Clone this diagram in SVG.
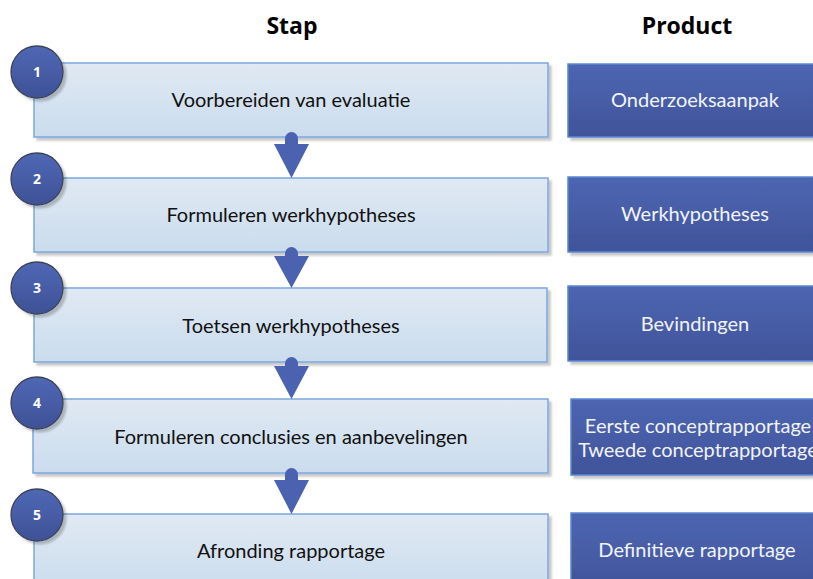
<svg xmlns="http://www.w3.org/2000/svg" width="813" height="579" viewBox="0 0 813 579">
<defs>
<linearGradient id="gLight" x1="0" y1="0" x2="0" y2="1">
<stop offset="0" stop-color="#e0e9f3"/>
<stop offset="1" stop-color="#cadced"/>
</linearGradient>
<linearGradient id="gDark" x1="0" y1="0" x2="0" y2="1">
<stop offset="0" stop-color="#4d66b2"/>
<stop offset="1" stop-color="#40539a"/>
</linearGradient>
<linearGradient id="gCirc" x1="0" y1="0" x2="0" y2="1">
<stop offset="0" stop-color="#4f68b5"/>
<stop offset="1" stop-color="#3e5196"/>
</linearGradient>
<filter id="sh" x="-10%" y="-10%" width="125%" height="130%">
<feGaussianBlur in="SourceAlpha" stdDeviation="1.2"/>
<feOffset dx="3" dy="3" result="b"/>
<feComponentTransfer><feFuncA type="linear" slope="0.22"/></feComponentTransfer>
<feMerge><feMergeNode/><feMergeNode in="SourceGraphic"/></feMerge>
</filter>
</defs>
<style>
.step{fill:url(#gLight);stroke:#7ba7de;stroke-width:1.5;filter:url(#sh)}
.prod{fill:url(#gDark);stroke:#5b86d2;stroke-width:1.5;filter:url(#sh)}
.circ{fill:url(#gCirc);stroke:#3d4257;stroke-width:1.3;filter:url(#sh)}
.num{font-family:"Open Sans","Liberation Sans",sans-serif;font-weight:bold;font-size:14px;fill:#ffffff;text-anchor:middle}
.st{font-family:"Lato","Liberation Sans",sans-serif;font-size:20px;fill:#111111;text-anchor:middle}
.pt{font-family:"Lato","Liberation Sans",sans-serif;font-size:20px;fill:#f2f4fa;text-anchor:middle}
.hd{font-family:"Open Sans","Liberation Sans",sans-serif;font-weight:bold;font-size:23px;fill:#000000;text-anchor:middle}
.arr{fill:#4b62b0}
</style>
<g id="headers">
<text class="hd" x="292" y="34">Stap</text>
<text class="hd" x="687" y="34">Product</text>
</g>
<g id="step1">
<rect class="step" x="34" y="63" width="514" height="74"/>
<text class="st" x="291" y="107">Voorbereiden van evaluatie</text>
</g>
<g id="prod1">
<rect class="prod" x="568" y="64" width="256" height="73"/>
<text class="pt" x="695" y="107">Onderzoeksaanpak</text>
</g>
<g id="step2">
<rect class="step" x="34" y="178" width="514" height="74"/>
<text class="st" x="291" y="222">Formuleren werkhypotheses</text>
</g>
<g id="prod2">
<rect class="prod" x="568" y="177" width="256" height="75"/>
<text class="pt" x="695" y="221">Werkhypotheses</text>
</g>
<g id="step3">
<rect class="step" x="34" y="288" width="513" height="74"/>
<text class="st" x="291" y="333">Toetsen werkhypotheses</text>
</g>
<g id="prod3">
<rect class="prod" x="568" y="286" width="256" height="75"/>
<text class="pt" x="695" y="331">Bevindingen</text>
</g>
<g id="step4">
<rect class="step" x="33" y="399" width="515" height="74"/>
<text class="st" x="291" y="444">Formuleren conclusies en aanbevelingen</text>
</g>
<g id="prod4">
<rect class="prod" x="571" y="399" width="256" height="76"/>
<text class="pt" x="698" y="433">Eerste conceptrapportage</text>
<text class="pt" x="698" y="457">Tweede conceptrapportage</text>
</g>
<g id="step5">
<rect class="step" x="34" y="514" width="514" height="80"/>
<text class="st" x="291" y="558">Afronding rapportage</text>
</g>
<g id="prod5">
<rect class="prod" x="571" y="513" width="256" height="80"/>
<text class="pt" x="697" y="557">Definitieve rapportage</text>
</g>
<g id="connectors">
<path class="arr" d="M285,138.5 A6.5,6.5 0 0 1 298,138.5 L298,144 L309,144 L291.5,178 L274,144 L285,144 Z"/>
<path class="arr" d="M285,253.5 A6.5,6.5 0 0 1 298,253.5 L298,256 L309,256 L291.5,288 L274,256 L285,256 Z"/>
<path class="arr" d="M285,363.5 A6.5,6.5 0 0 1 298,363.5 L298,366 L309,366 L291.5,399 L274,366 L285,366 Z"/>
<path class="arr" d="M285,474.5 A6.5,6.5 0 0 1 298,474.5 L298,480 L309,480 L291.5,514 L274,480 L285,480 Z"/>
</g>
<g id="badge1"><circle class="circ" cx="37" cy="72" r="26"/><text class="num" x="37" y="77">1</text></g>
<g id="badge2"><circle class="circ" cx="37" cy="179" r="26"/><text class="num" x="37" y="184">2</text></g>
<g id="badge3"><circle class="circ" cx="37" cy="288" r="26"/><text class="num" x="37" y="293">3</text></g>
<g id="badge4"><circle class="circ" cx="37" cy="403" r="26"/><text class="num" x="37" y="408">4</text></g>
<g id="badge5"><circle class="circ" cx="37" cy="515" r="26"/><text class="num" x="37" y="520">5</text></g>
</svg>
